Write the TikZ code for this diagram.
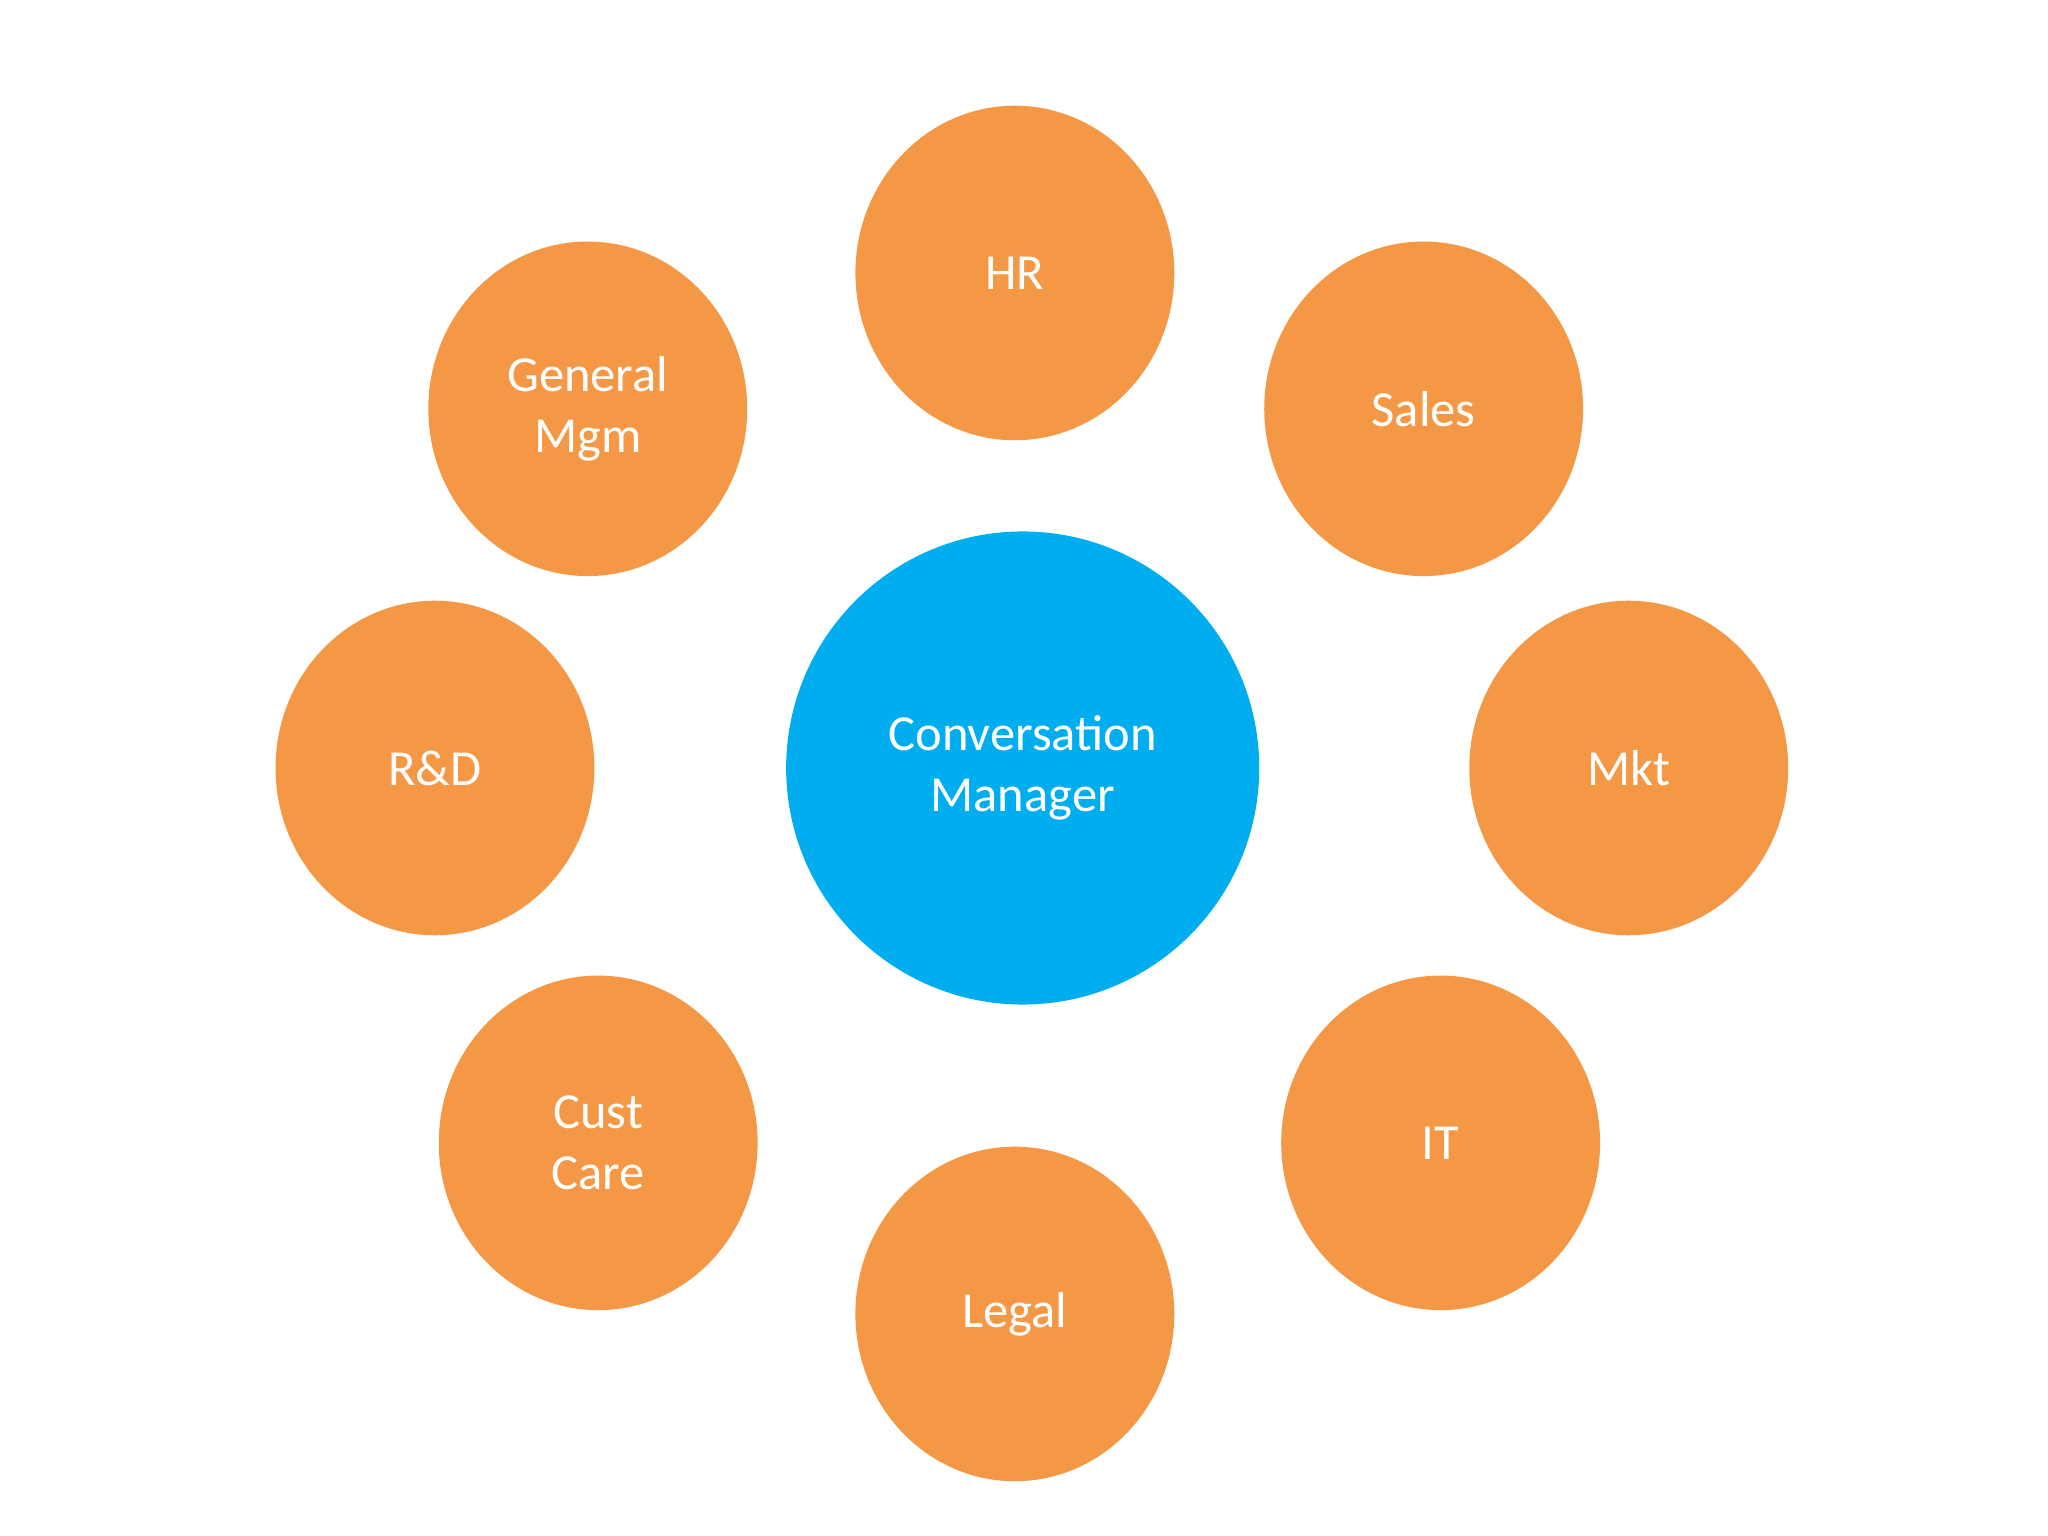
\documentclass[tikz,border=0pt]{standalone}
\usepackage{fontspec}
\setmainfont{Carlito}
\usetikzlibrary{shapes.geometric}
\definecolor{dept}{HTML}{F59846}
\definecolor{core}{HTML}{00AEEF}
\begin{document}
\begin{tikzpicture}[x=0.01cm,y=-0.01cm,
  dept/.style={ellipse,fill=dept,draw=none,minimum width=244\pgflinewidth*0+6.94cm*0+2.44cm,minimum height=2.56cm,inner sep=0pt,text=white,align=center,font=\fontsize{11pt}{13.4pt}\selectfont},
  corebox/.style={circle,fill=core,draw=none,minimum size=3.62cm,inner sep=0pt,text=white,align=center,font=\fontsize{11pt}{13.4pt}\selectfont}]
\useasboundingbox (0,0) rectangle (1568,1176);
\node[corebox] (cm) at (783,588) {Conversation\\Manager};
\node[dept] (hr) at (777,209) {HR};
\node[dept] (gm) at (450,313) {General\\Mgm};
\node[dept] (sales) at (1090,313) {Sales};
\node[dept] (rd) at (333,588) {R\&D};
\node[dept] (mkt) at (1247,588) {Mkt};
\node[dept] (cc) at (458,875) {Cust\\Care};
\node[dept] (it) at (1103,875) {IT};
\node[dept] (legal) at (777,1006) {Legal};
\end{tikzpicture}
\end{document}
